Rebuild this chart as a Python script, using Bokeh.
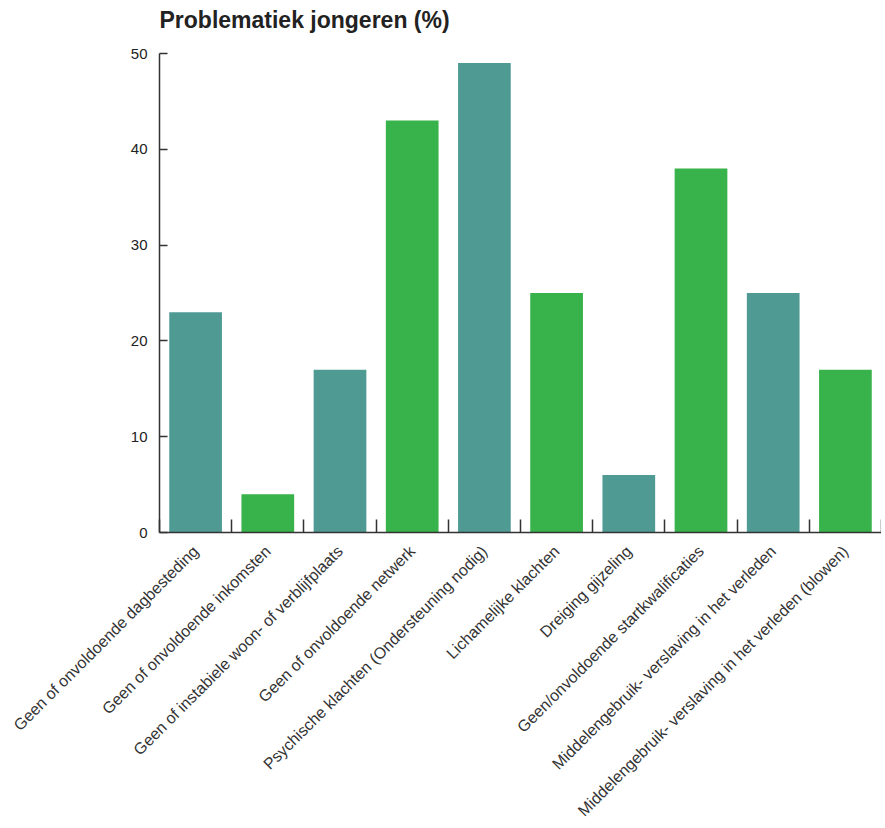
from math import pi
from bokeh.plotting import figure
from bokeh.models import FixedTicker, Range1d, ColumnDataSource, Label
from bokeh.embed import file_html
from bokeh.resources import INLINE

title = "Problematiek jongeren (%)"
categories = [
    "Geen of onvoldoende dagbesteding",
    "Geen of onvoldoende inkomsten",
    "Geen of instabiele woon- of verblijfplaats",
    "Geen of onvoldoende netwerk",
    "Psychische klachten (Ondersteuning nodig)",
    "Lichamelijke klachten",
    "Dreiging gijzeling",
    "Geen/onvoldoende startkwalificaties",
    "Middelengebruik- verslaving in het verleden",
    "Middelengebruik- verslaving in het verleden (blowen)",
]
values = [23, 4, 17, 43, 49, 25, 6, 38, 25, 17]
y_ticks = [0, 10, 20, 30, 40, 50]
palette = ["#509a94", "#38b24a"]

n = len(categories)
xs = [i + 0.5 for i in range(n)]
colors = [palette[i % 2] for i in range(n)]
src = ColumnDataSource(dict(x=xs, top=values, color=colors, cat=categories))

H = 828
bottom_border = 296
axis_top_px = 53  # pixels from top of figure where the 50 tick sits
frame_h = H - bottom_border
y_max = y_ticks[-1] * frame_h / (frame_h - axis_top_px)

p = figure(width=881, height=H, output_backend="svg", toolbar_location=None,
           x_range=Range1d(0, n), y_range=Range1d(0, y_max),
           min_border_left=159, min_border_right=0, min_border_top=0,
           min_border_bottom=bottom_border)

p.vbar(x="x", top="top", width=0.73, color="color", line_color=None, source=src)

p.add_layout(Label(x=0, y=y_ticks[-1], x_offset=0, y_offset=34, text=title,
                   text_font="Liberation Sans", text_font_style="bold",
                   text_font_size="23px", text_color="#222222",
                   text_baseline="alphabetic", text_align="left"))

p.grid.visible = False
p.outline_line_color = None
p.background_fill_color = "white"

xa = p.xaxis[0]
xa.ticker = FixedTicker(ticks=xs, minor_ticks=list(range(n + 1)))
xa.major_label_overrides = {x: c for x, c in zip(xs, categories)}
xa.major_label_orientation = pi / 4
xa.major_tick_in = 0
xa.major_tick_out = 0
xa.minor_tick_in = 13
xa.minor_tick_out = 0
xa.minor_tick_line_color = "#333333"
xa.minor_tick_line_width = 1.5
xa.axis_line_color = "#333333"
xa.axis_line_width = 1.5
xa.major_label_text_font = "Liberation Sans"
xa.major_label_text_font_size = "16px"
xa.major_label_text_color = "#333333"
xa.major_label_standoff = 16

ya = p.yaxis[0]
ya.ticker = FixedTicker(ticks=y_ticks)
ya.bounds = (y_ticks[0], y_ticks[-1])
ya.minor_tick_line_color = None
ya.major_tick_in = 8
ya.major_tick_out = 0
ya.major_tick_line_color = "#333333"
ya.major_tick_line_width = 1.5
ya.axis_line_color = "#333333"
ya.axis_line_width = 1.5
ya.major_label_text_font = "Liberation Sans"
ya.major_label_text_font_size = "15px"
ya.major_label_text_color = "#222222"
ya.major_label_standoff = 12

open("out.html", "w").write(file_html(p, INLINE))
